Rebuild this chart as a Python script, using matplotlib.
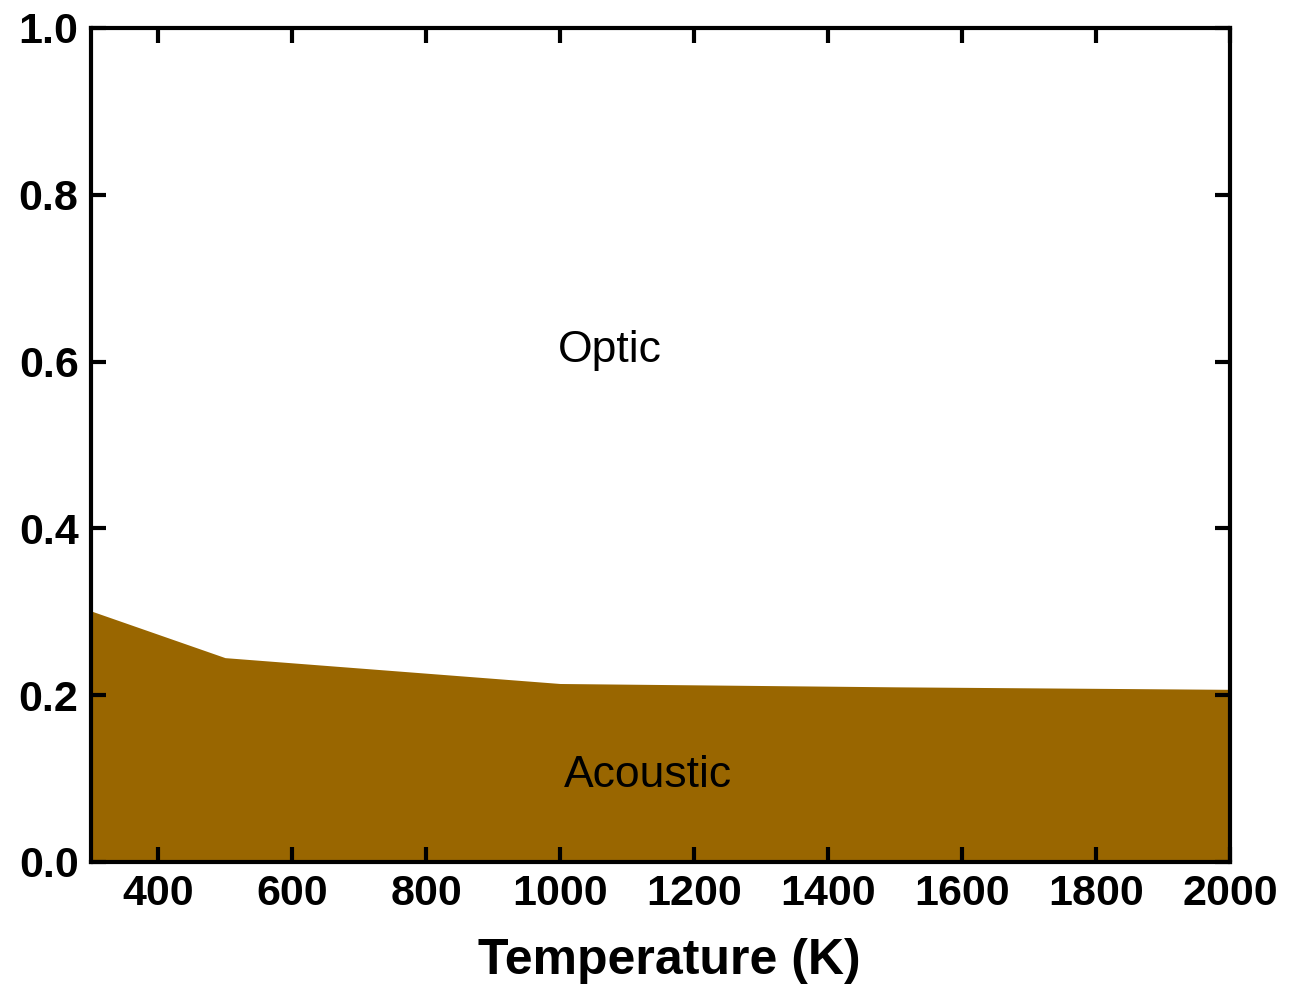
import matplotlib
matplotlib.use("Agg")
import matplotlib.pyplot as plt

# Fraction of thermal conductivity carried by acoustic modes
temperature = [300, 500, 1000, 1500, 2000]
acoustic_fraction = [0.301, 0.245, 0.214, 0.210, 0.207]

x_ticks = [400, 600, 800, 1000, 1200, 1400, 1600, 1800, 2000]
y_ticks = [0.0, 0.2, 0.4, 0.6, 0.8, 1.0]

plt.rcParams['font.family'] = ['Liberation Sans', 'DejaVu Sans']

fig = plt.figure(figsize=(12.97, 9.85), dpi=100)
ax = fig.add_axes([0.0702, 0.1249, 0.8781, 0.8467])

ax.fill_between(temperature, 0, acoustic_fraction, color='#996600', linewidth=0)

ax.set_xlim(300, 2000)
ax.set_ylim(0, 1.0)
ax.set_xticks(x_ticks)
ax.set_yticks(y_ticks)
ax.set_yticklabels([f"{v:.1f}" for v in y_ticks])

ax.tick_params(direction='in', length=11, width=3, top=True, right=True,
               labelsize=31, pad=9)
for lab in ax.get_xticklabels() + ax.get_yticklabels():
    lab.set_fontweight('bold')
for sp in ax.spines.values():
    sp.set_linewidth(3)

ax.set_xlabel('Temperature (K)', fontsize=36, fontweight='bold')
ax.xaxis.set_label_coords(0.508, -0.091)

ax.text(1075, 0.613, 'Optic', fontsize=32, ha='center', va='center')
ax.text(1131, 0.104, 'Acoustic', fontsize=32, ha='center', va='center')

fig.savefig('out.png', dpi=100)
